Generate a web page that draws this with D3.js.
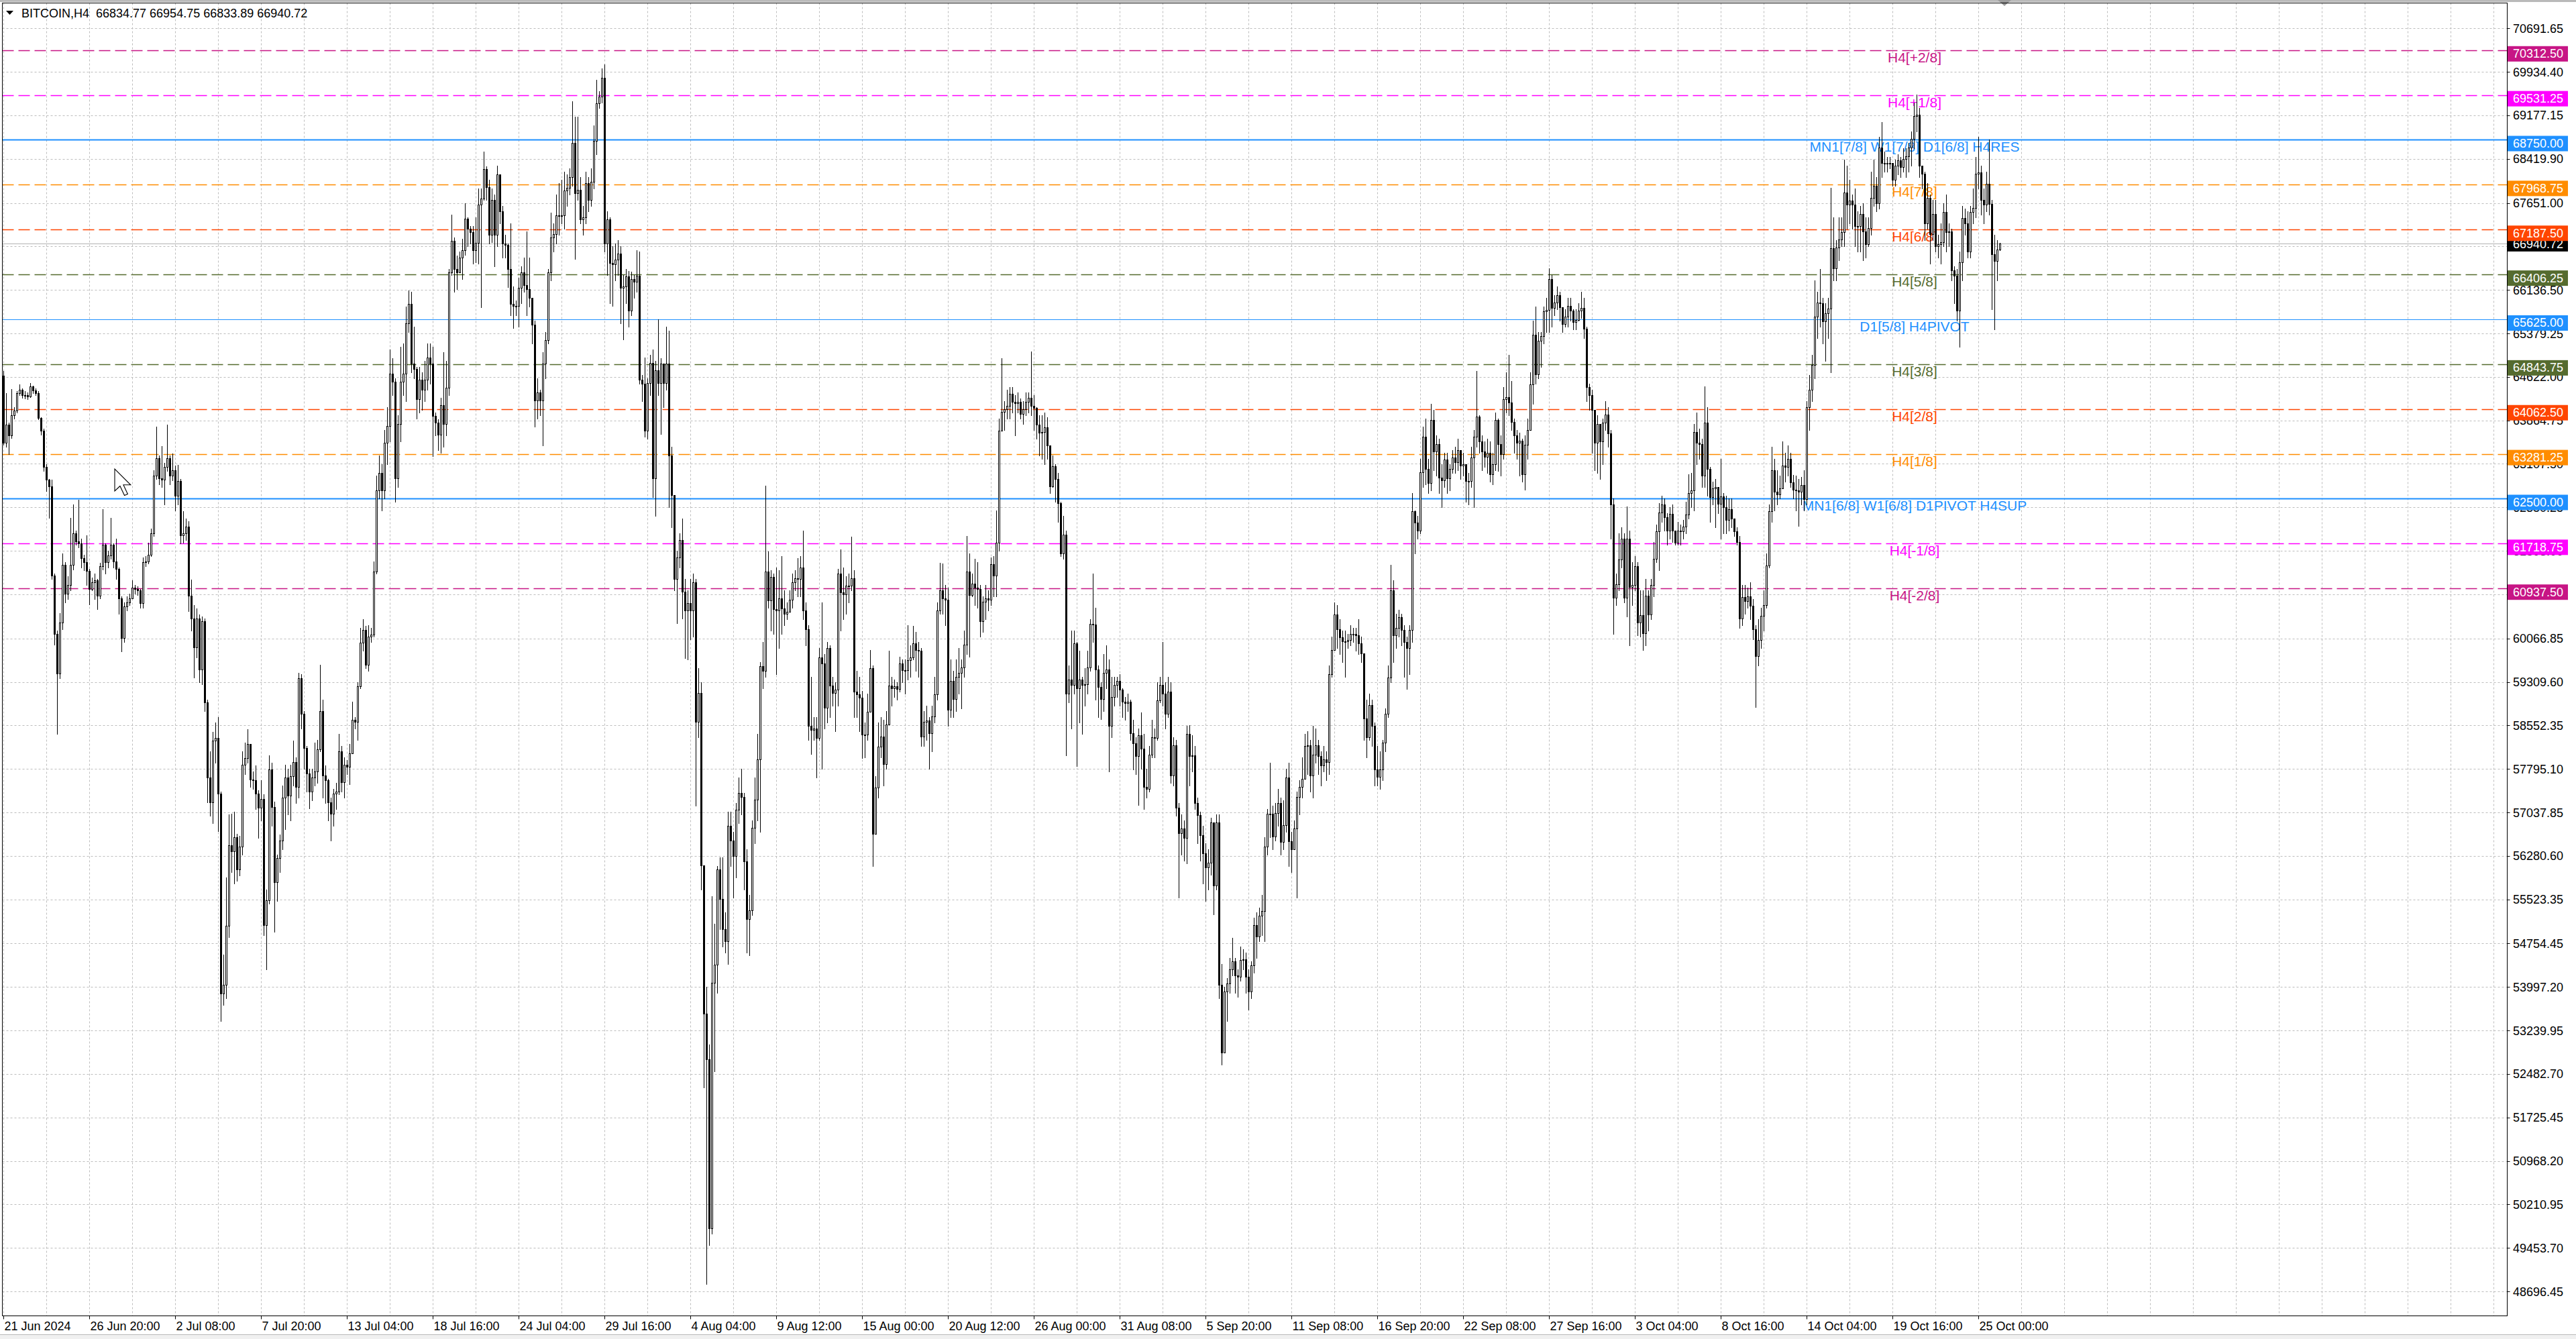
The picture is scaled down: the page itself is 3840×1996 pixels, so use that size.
<!DOCTYPE html>
<html>
<head>
<meta charset="utf-8">
<script src="https://cdn.jsdelivr.net/npm/d3@7"></script>
<style>
  html, body { margin: 0; padding: 0; background: #fff; }
  svg { display: block; font-family: "Liberation Sans", Arial, sans-serif; }
</style>
</head>
<body>
<svg id="chart" width="3840" height="1996"></svg>
<script>
// BITCOIN H4 candles, 21 Jun 2024 - 26 Oct 2024 (open of each bar = previous close)
const firstOpen = 64640;
const closes = [
  63480,63790,63600,63950,64040,64340,64400,64310,64300,64280,
  64460,64390,64340,63910,63680,63060,62830,62710,61160,60150,
  59460,60350,61350,60850,61000,61350,61900,61760,61720,61470,
  61390,61240,60930,61050,61080,60810,61320,61700,61390,61510,
  61700,61410,61280,60770,60080,60630,60690,60770,60950,60930,
  60900,60680,61390,61410,61530,61900,62900,63210,62860,62830,
  63060,63210,62900,63000,62550,62810,61860,61900,62010,60810,
  60420,59910,60420,59530,60370,58950,57640,57210,58290,58330,
  57360,53880,54040,55060,56470,56360,56610,56050,56440,57870,
  57990,58230,57610,57600,57360,57120,57270,55080,55510,57790,
  57130,55820,56240,56550,57290,57640,57330,57670,57920,57480,
  59380,58760,58160,57710,57400,57640,57750,58140,58800,57680,
  57600,57210,57020,57360,57400,58100,57560,57870,57830,58070,
  58650,58620,59240,59990,60210,59610,60100,60130,61230,62640,
  62950,62640,63470,63770,64680,64540,62860,63800,64540,64680,
  65560,65890,64850,64760,64240,64570,64400,64570,64960,64850,
  63940,63830,63610,64130,63800,64430,66440,66990,66500,66440,
  66700,66830,67380,67200,67140,66830,66960,67620,67730,68240,
  67930,67100,67710,67100,68150,67510,66940,66920,66500,65890,
  65860,65860,66170,66440,66220,66150,66000,65530,64210,64350,
  64210,64850,65260,66440,67050,67110,67440,67440,67440,67870,
  67910,68100,68700,67820,67880,67360,67400,68000,67710,68020,
  68730,69390,69500,69830,66940,67360,66610,66580,66660,66770,
  66170,66200,66370,65780,66330,66280,66390,64570,64500,63690,
  64520,64870,62860,64740,64520,64850,64520,64850,63250,62560,
  61100,61480,61780,60880,60550,60680,60550,61040,58610,59120,
  56120,53530,52740,49800,54070,54390,56050,55530,55010,54790,
  56800,56550,56280,57090,57380,57310,56180,55180,55330,56770,
  57260,57960,59580,59500,61230,60730,61140,60580,60550,60770,
  60590,60500,60530,60740,61040,61120,61100,61300,60550,60230,
  58550,58470,58500,58340,59740,59630,58860,59900,59250,59120,
  59180,61200,60870,60830,60990,60990,61120,59140,59090,59040,
  58390,58390,58790,59550,56660,57470,58180,58360,57880,58570,
  59250,59200,59230,59190,59630,59520,59510,59690,59740,59980,
  59870,59850,58360,58610,58640,58420,58710,59090,60550,60910,
  60770,60740,58820,59330,59010,59400,59470,59560,59960,61230,
  60820,61020,60950,60930,60370,60710,60770,60740,61360,61160,
  61740,63680,64010,64060,64120,64330,64190,64170,64190,63980,
  64060,64190,64260,64120,64080,63790,63650,63660,63740,63430,
  62710,63070,62840,62420,61550,61870,59100,59350,59260,59980,
  59200,59350,59260,59270,59560,60320,60310,59530,59220,59010,
  59470,59530,58550,59050,59260,59330,59180,58970,58940,58970,
  58420,58240,58020,58380,58150,57480,57450,58040,58350,58340,
  58990,59260,59100,58760,59140,57680,58210,57120,56670,56760,
  56590,58400,58020,58030,57200,56990,56640,56330,56080,56160,
  56860,55770,56860,54040,52850,53920,54060,54310,54450,54200,
  54170,54470,54480,54170,53920,54380,55070,54880,55240,55320,
  56440,57010,57010,56620,57030,57200,56520,56820,57640,56530,
  56400,56760,57310,57480,57620,58190,58210,57680,58040,58210,
  58020,57850,57960,57920,59450,59870,60480,60230,60090,60020,
  60020,60040,60150,60150,60120,59980,59810,58670,58350,58910,
  58550,57790,57660,57790,58250,58760,59390,60900,60120,60250,
  60440,60220,60010,59900,60220,62280,62090,61950,62960,63580,
  63020,62780,63870,63320,63450,62870,62820,63180,62860,63020,
  63220,63140,63350,63080,63100,62810,62810,63220,63580,63930,
  63500,63320,63230,63300,62930,63100,63870,63450,63280,64240,
  64270,64180,63840,63600,63470,63510,62930,63440,63700,64490,
  65360,64670,65250,65330,65760,65790,66330,65820,65920,66040,
  65840,65540,65670,65860,65780,65580,65610,65780,65820,65460,
  64450,64310,64050,63480,63800,63500,63820,63970,63640,62400,
  60780,61010,61440,61800,60780,61800,60960,61000,61320,60350,
  60470,60160,60810,60490,61000,61450,61930,62260,62400,62180,
  61950,62240,61950,61730,61950,61930,62010,62230,62600,62640,
  63660,63480,63450,62900,63830,63020,62530,62680,62700,62410,
  62540,62350,62130,62320,62150,61930,61750,60420,60790,60720,
  60800,60640,60230,59760,60040,60460,60650,61340,62280,63000,
  62620,62580,62680,63080,63060,63190,62790,62660,62640,62620,
  62740,62490,64100,64400,64830,65670,65920,65900,65590,65730,
  65810,66860,66510,66880,67020,67140,67830,67620,67690,67620,
  67250,67250,67460,67160,66930,67210,67740,67950,67650,68610,
  68350,68330,68350,68350,68060,68300,68390,68280,68420,68460,
  68610,68770,69160,69190,68300,68160,67300,67740,67110,67460,
  66900,66930,66970,67490,67140,67150,66480,66390,65780,66620,
  67390,67300,66810,67490,67560,68160,68180,67700,67620,67990,
  67630,66760,66640,66834.77,66940.72
];
const highs = [
  64720,64340,63820,64410,64100,64380,64490,64420,64380,64350,
  64520,64470,64420,64380,63920,63720,63100,62850,62830,61200,
  60200,60510,61550,61400,61150,62170,62400,61950,62480,61800,
  61520,61860,61280,61130,61200,61100,61380,62320,61720,61600,
  62170,61720,61800,61300,60800,60700,60800,60850,61080,61000,
  60970,60930,61480,61500,61740,61980,63000,63750,63250,63420,
  63130,63790,63250,63290,63080,63090,62850,62280,62150,62110,
  61090,60650,60590,60480,60450,60420,59000,58100,58440,58600,
  58700,57400,54560,55900,57000,57010,57050,56660,56630,58100,
  58250,58490,58200,57750,57860,57420,57600,57350,55700,58030,
  57900,57220,56300,56650,57500,57870,57800,57870,58290,58000,
  59470,59450,58800,58200,57800,57800,58250,58300,59610,59000,
  57850,57620,57300,57450,57550,58410,58200,58000,57950,58230,
  58960,58700,59300,60250,60400,60280,60300,60250,61410,62900,
  63250,63100,63700,64100,65100,64950,64600,63950,65150,65200,
  65850,66130,66100,65500,64800,64800,64700,64900,65200,65200,
  65150,64000,63880,64260,65050,64900,66500,67450,67050,66730,
  66800,67030,67650,67400,67250,67250,67400,67900,67900,68550,
  68290,68050,67900,67800,68300,68150,67600,67100,66940,67300,
  66200,65950,66350,66550,66700,67150,66700,66000,65600,64600,
  64400,65050,65400,66500,67480,67300,67800,68000,68050,68200,
  68150,68250,69420,69150,69150,68100,67600,68200,68100,68250,
  69000,69800,69600,70000,70060,67500,67400,66900,66950,67000,
  66900,66400,66500,66470,66450,66400,66830,66800,64650,64960,
  64600,65000,65100,64900,65620,64950,64700,65500,65430,63400,
  62220,61600,61900,62150,61100,60900,61100,61200,61100,59550,
  59300,56100,54000,53000,55580,55100,56100,56250,56250,55300,
  57050,57050,56700,57200,57650,57800,57380,56400,55600,56900,
  57650,58400,59660,60000,62730,61580,61250,61200,61300,61250,
  61500,60900,60700,60900,61200,61250,61470,61500,61950,60700,
  60300,59400,58700,58700,59900,60700,59800,60000,59950,59400,
  59300,61280,61620,61300,61150,61200,61840,61250,59500,59400,
  59150,58600,59100,59860,59600,57670,58600,58700,58650,58800,
  59850,59400,59350,59300,59750,59700,59700,60300,59950,60280,
  60180,60000,59900,58800,58900,58700,58900,59400,60700,61380,
  61370,61000,60950,59700,59500,59700,59900,59700,60200,61850,
  61550,61200,61450,61400,61000,60800,61000,60900,61480,61500,
  62300,63900,64950,64200,64400,64450,64450,64300,64350,64250,
  64200,64350,64350,65060,64300,64100,63950,63950,64000,63920,
  63420,63250,63100,62950,62450,62200,61950,59600,60200,60200,
  60000,59850,59400,59550,59850,60400,61200,60600,59600,59300,
  59800,59950,59700,59400,59400,59400,59450,59200,59050,59100,
  59000,58650,58350,58500,58780,58400,57800,58200,58650,58500,
  59300,59400,60000,59300,59400,59300,58350,58300,57200,57000,
  56900,58550,58560,58380,58200,57300,57050,56800,56500,56400,
  56950,56600,57000,57000,54400,54000,54150,54500,54850,54500,
  54300,54700,54650,54600,54300,54450,55200,55300,55380,55600,
  56600,57100,57900,57150,57200,57450,57300,57250,57800,57900,
  56700,56900,57400,57600,58000,58400,58450,58300,58550,58500,
  58300,58100,58200,58100,59600,60100,60700,60650,60400,60200,
  60200,60150,60300,60250,60250,60400,60100,59700,59000,59100,
  59000,58600,58200,58100,58300,58850,59600,61350,61080,60500,
  60570,60500,60300,60100,60300,62600,62300,62200,63200,63750,
  63900,63200,64150,64050,63600,63550,63100,63300,63300,63100,
  63350,63400,63550,63350,63300,63100,62950,63400,63700,64720,
  63950,63600,63500,63550,63500,63300,64000,63900,63600,64450,
  64700,65000,64550,63900,63700,63650,63550,63600,63900,64700,
  65600,65850,65400,65400,65850,66000,66510,66400,66050,66200,
  66100,65700,65800,66000,66000,65800,65800,65900,66100,66000,
  65500,64500,64400,63900,63950,63800,63900,64200,64100,63700,
  62500,61200,61900,62000,61900,62370,61950,61400,61500,61400,
  60900,60900,61100,60900,61100,61750,62050,62420,62550,62500,
  62250,62350,62400,61950,62100,62050,62130,62450,62930,62950,
  63800,64000,63720,63550,64460,64100,63050,62800,62850,62700,
  63200,62600,62550,62500,62500,62100,62000,61850,61000,61000,
  60950,61050,60750,60300,60400,60600,60900,61550,62400,63400,
  63200,63000,62900,63500,63300,63430,63300,62920,62900,62850,
  62880,63000,64200,64650,65000,66300,66100,66500,66000,65900,
  66000,67920,67400,67000,67400,67400,68400,68300,68050,67800,
  67900,67500,67600,67650,67400,67400,68200,68400,68100,68800,
  69060,68550,68450,68450,68350,68400,68500,68450,68600,68600,
  68700,68900,69400,69540,69300,68300,68200,68000,67800,67700,
  67700,67100,67300,67650,67800,67300,67200,66550,66500,66800,
  67600,67550,67500,67600,67900,68450,68800,68300,67900,68200,
  68750,67700,67100,67000,66954.75
];
const lows = [
  63440,63400,63280,63560,63900,64000,64300,64260,64250,64230,
  64270,64340,64300,63880,63620,62980,62630,62170,61100,59960,
  58410,59380,60230,60700,60750,60900,61270,61700,61650,61300,
  61250,61000,60660,60900,60750,60580,60760,61270,61200,61300,
  61450,61300,61100,60500,59840,60000,60550,60650,60850,60850,
  60820,60600,60600,61320,61370,61500,61850,62850,62750,62700,
  62400,62980,62750,62820,62290,62400,61720,61740,61780,60540,
  60200,59390,59740,59300,59270,58800,57210,56980,56850,57900,
  56710,53410,53690,53800,54860,56000,55800,55850,55940,56300,
  57700,57900,57480,57450,57100,56590,56900,54900,54300,55450,
  56800,54960,55500,56000,56400,56750,57000,56900,57500,57200,
  57300,58500,57800,57400,57110,57250,57500,57550,58100,57300,
  57200,56900,56550,56800,57100,57350,57400,57300,57700,57530,
  58500,58500,58300,59200,59850,59550,59500,60000,60100,61200,
  62500,62300,62500,63100,63500,64300,62450,62700,63500,64300,
  64200,65400,64700,64600,63900,64000,64050,64200,64400,64500,
  63240,63600,63350,63300,63400,63600,64300,66400,66100,66150,
  66500,66330,66750,66900,66950,66600,66620,66600,65840,67700,
  67700,66950,66970,66550,66900,67300,66700,66700,66180,65700,
  65470,65700,65500,65900,66100,65700,65850,65200,63750,63900,
  63950,63430,64600,65200,66300,66800,66950,67100,67300,67200,
  67600,67800,67950,66680,67700,67300,67100,67300,67500,67600,
  67900,68500,69300,69400,66800,66400,65900,65860,66300,66400,
  65550,65280,65900,65500,65700,66000,66100,64500,64200,63580,
  63550,64300,62530,62200,64300,63630,64100,64400,62350,62000,
  60900,60330,61300,60420,59720,59700,60050,60100,57150,58350,
  55700,52250,48830,49500,49700,52530,53900,55000,54700,54600,
  54400,56100,55550,55900,56850,57000,55700,54600,54550,55250,
  56500,56900,56700,59200,59400,60600,60200,60150,59450,59900,
  60150,60300,60400,60550,60600,60900,60800,60800,60400,59950,
  58300,58050,58300,57650,58300,57800,58500,58600,58700,58900,
  58450,58900,60200,60400,60500,60700,60900,58700,58700,58450,
  57980,58000,58300,58900,56100,56750,57300,58000,57500,57800,
  58600,58900,59050,59000,59140,59300,59100,59350,59400,59700,
  59500,59400,58200,58200,58300,57800,58100,58600,59000,60500,
  60500,60300,58550,58700,58700,58800,59100,58850,59400,59800,
  59750,60800,60650,60600,60100,60180,60400,60550,60650,60800,
  60800,61600,63700,63700,63900,63900,64000,63600,64000,63900,
  63800,63950,64000,63950,63700,63550,63250,63200,63100,63200,
  62600,62700,62450,62100,61500,61450,58030,58950,58500,59100,
  57840,58600,58400,58900,59100,59500,60000,59000,58700,58660,
  58800,59200,57750,58350,58900,59050,58900,58700,58650,58800,
  58300,57780,57700,57170,57800,57100,57300,57400,58000,58000,
  58300,58950,58900,58500,58700,57550,57500,56980,55550,56300,
  56200,56150,57500,57750,57100,56500,56200,55800,55500,55700,
  55950,55260,55700,53800,52650,52950,53400,53900,54200,53900,
  53820,54100,54300,53900,53600,53800,54250,54500,54800,54900,
  54800,56300,56600,56400,56550,56800,56300,56400,56700,56100,
  56000,56400,55550,57000,57300,57800,57700,57400,57300,57900,
  57700,57500,57750,57600,57700,59400,60100,59900,59800,59650,
  59400,59900,59950,60000,59850,59800,59650,58300,58000,58300,
  58200,57500,57500,57450,57600,58100,58700,59300,59650,59900,
  60100,59950,59400,59190,59450,60000,61550,61800,61900,62700,
  62750,62600,62650,63000,62900,62600,62350,62700,62600,62650,
  62950,62950,63000,62850,62900,62450,62400,62700,62350,63400,
  63300,63000,63050,62950,62800,62750,63000,62980,62900,63200,
  64000,63950,63700,63300,63200,62900,62800,62660,63200,63700,
  64150,64500,64600,64800,65200,65400,65400,65500,65700,65800,
  65600,65400,65500,65500,65600,65450,65450,65600,65650,65300,
  64200,64050,63300,63000,62950,62850,63100,63700,63400,61800,
  60150,60650,60900,61300,60700,60450,59950,60650,60900,60120,
  60100,59860,59950,60200,60400,60800,61400,61250,62100,61950,
  61700,61800,61750,61700,61700,61700,61800,61900,62150,62350,
  62300,63100,63200,62700,62700,62550,62100,62400,62000,62250,
  61800,61900,61900,61950,62000,61850,61700,60250,60300,60500,
  60600,60400,60050,58870,59600,59900,60200,60600,61300,62100,
  62300,62400,62500,62900,62800,62900,62700,62500,62300,62030,
  62400,62300,62400,63700,64200,64600,65300,65500,65200,64900,
  65300,64700,66300,66300,66650,66900,66900,67200,67300,67200,
  66900,66800,66800,66650,66700,66900,67100,67600,67500,67550,
  68100,68200,68200,68250,67950,67950,68150,68100,68200,68100,
  68200,68300,68600,68900,68100,67900,67000,67200,66600,67000,
  66800,66700,66600,66900,66800,66900,66300,65900,65600,65150,
  66300,67100,66700,66700,67300,67400,67900,67450,67300,67500,
  67450,65800,65450,66300,66833.89
];

// axis labels as MetaTrader prints them
const timeLabels = [
  "21 Jun 2024", "26 Jun 20:00", "2 Jul 08:00", "7 Jul 20:00", "13 Jul 04:00",
  "18 Jul 16:00", "24 Jul 04:00", "29 Jul 16:00", "4 Aug 04:00", "9 Aug 12:00",
  "15 Aug 00:00", "20 Aug 12:00", "26 Aug 00:00", "31 Aug 08:00", "5 Sep 20:00",
  "11 Sep 08:00", "16 Sep 20:00", "22 Sep 08:00", "27 Sep 16:00", "3 Oct 04:00",
  "8 Oct 16:00", "14 Oct 04:00", "19 Oct 16:00", "25 Oct 00:00"
];
const barsPerLabel = 32;
const priceTicks = [
  70691.65, 69934.40, 69177.15, 68419.90, 67651.00, 66893.75, 66136.50, 65379.25,
  64622.00, 63864.75, 63107.50, 62350.25, 61593.00, 60835.75, 60066.85, 59309.60,
  58552.35, 57795.10, 57037.85, 56280.60, 55523.35, 54754.45, 53997.20, 53239.95,
  52482.70, 51725.45, 50968.20, 50210.95, 49453.70, 48696.45
];
// ticks whose label is fully hidden behind a price tag in the reference
const hiddenTicks = [66893.75, 60835.75];

// Murrey math levels
const levelPrices = [70312.50, 69531.25, 68750.00, 67968.75, 67187.50, 66406.25, 65625.00,
                     64843.75, 64062.50, 63281.25, 62500.00, 61718.75, 60937.50];
const levelNames = ["H4[+2/8]", "H4[+1/8]", "MN1[7/8] W1[7/8] D1[6/8] H4RES", "H4[7/8]", "H4[6/8]",
                    "H4[5/8]", "D1[5/8] H4PIVOT", "H4[3/8]", "H4[2/8]", "H4[1/8]",
                    "MN1[6/8] W1[6/8] D1PIVOT H4SUP", "H4[-1/8]", "H4[-2/8]"];
const symbol = "BITCOIN,H4";
const lastBar = { o: 66834.77, h: 66954.75, l: 66833.89, c: 66940.72 };

// styles
const levelStyle = [
  {color: "#C71585", w: 1.3, dash: "17,7"},
  {color: "#FF00FF", w: 1.3, dash: "17,7"},
  {color: "#1E90FF", w: 2.2, dash: null},
  {color: "#FF8C00", w: 1.3, dash: "17,7"},
  {color: "#FF4500", w: 1.3, dash: "17,7"},
  {color: "#556B2F", w: 1.3, dash: "17,7"},
  {color: "#1E90FF", w: 1.2, dash: null},
  {color: "#556B2F", w: 1.3, dash: "17,7"},
  {color: "#FF4500", w: 1.3, dash: "17,7"},
  {color: "#FF8C00", w: 1.3, dash: "17,7"},
  {color: "#1E90FF", w: 2.2, dash: null},
  {color: "#FF00FF", w: 1.3, dash: "17,7"},
  {color: "#C71585", w: 1.3, dash: "17,7"}
];

const W = 3840, H = 1996;
const plot = {left: 3.5, top: 4.5, right: 3737.5, bottom: 1961.5};
const svg = d3.select("#chart");

const bars = closes.map((c, i) => ({
  i, c, h: highs[i], l: lows[i], o: i === 0 ? firstOpen : closes[i - 1]
}));

const x = d3.scaleBand()
  .domain(d3.range(933))
  .range([plot.left, plot.left + 933 * 4]);
const cx = i => x(i) + x.bandwidth() / 2;

const y = d3.scaleLinear()
  .domain([48696.45, 70691.65])
  .range([1925, 42.3]);
const sy = v => Math.round(y(v)) + 0.5;

// window chrome
svg.append("rect").attr("width", W).attr("height", H).attr("fill", "#fff");
svg.append("rect").attr("x", 0).attr("y", 0).attr("width", W).attr("height", 3).attr("fill", "#b9b9b9");
svg.append("path").attr("d", "M2978,0 L2998,0 L2988,9 Z").attr("fill", "#9a9a9a");
svg.append("rect").attr("x", 0).attr("y", 1989).attr("width", W).attr("height", 7).attr("fill", "#f0f0f0");
svg.append("line").attr("x1", 0).attr("x2", W).attr("y1", 1989.5).attr("y2", 1989.5).attr("stroke", "#b9b9b9");

svg.append("defs").append("clipPath").attr("id", "plotclip")
  .append("rect").attr("x", plot.left).attr("y", plot.top)
  .attr("width", plot.right - plot.left).attr("height", plot.bottom - plot.top);

const g = svg.append("g").attr("clip-path", "url(#plotclip)");

// grid
const gridV = d3.range(0, 933, barsPerLabel / 2);
g.selectAll("line.gv").data(gridV).enter().append("line")
  .attr("class", "gv")
  .attr("x1", d => cx(d)).attr("x2", d => cx(d))
  .attr("y1", plot.top).attr("y2", plot.bottom)
  .attr("stroke", "#bdbdbd").attr("stroke-dasharray", "3,3");
g.selectAll("line.gh").data(priceTicks).enter().append("line")
  .attr("class", "gh")
  .attr("x1", plot.left).attr("x2", plot.right)
  .attr("y1", d => sy(d)).attr("y2", d => sy(d))
  .attr("stroke", "#bdbdbd").attr("stroke-dasharray", "3,3");

// level lines and labels
const levels = levelPrices.map((p, k) => ({p, name: levelNames[k], st: levelStyle[k]}));
g.selectAll("line.lvl").data(levels).enter().append("line")
  .attr("class", "lvl")
  .attr("x1", plot.left).attr("x2", plot.right)
  .attr("y1", d => sy(d.p)).attr("y2", d => sy(d.p))
  .attr("stroke", d => d.st.color)
  .attr("stroke-width", d => d.st.w)
  .attr("stroke-dasharray", d => d.st.dash);
g.selectAll("text.lvl").data(levels).enter().append("text")
  .attr("class", "lvl")
  .attr("x", 2854).attr("y", d => sy(d.p) + 17)
  .attr("text-anchor", "middle")
  .attr("font-size", 21)
  .attr("fill", d => d.st.color)
  .text(d => d.name);

// current price line
g.append("line")
  .attr("x1", plot.left).attr("x2", plot.right)
  .attr("y1", sy(lastBar.c)).attr("y2", sy(lastBar.c))
  .attr("stroke", "#b4b4b4");

// candles
const cg = g.append("g");
cg.selectAll("line.wick").data(bars).enter().append("line")
  .attr("class", "wick")
  .attr("x1", d => cx(d.i)).attr("x2", d => cx(d.i))
  .attr("y1", d => Math.round(y(d.h))).attr("y2", d => Math.round(y(d.l)) + 1)
  .attr("stroke", "#000");
cg.selectAll("rect.body").data(bars).enter().append("rect")
  .attr("class", "body")
  .attr("x", d => cx(d.i) - 1)
  .attr("width", 2)
  .attr("y", d => sy(Math.max(d.o, d.c)))
  .attr("height", d => Math.max(1, sy(Math.min(d.o, d.c)) - sy(Math.max(d.o, d.c))))
  .attr("fill", d => d.c >= d.o ? "#fff" : "#000")
  .attr("stroke", "#000");

// mouse pointer
svg.append("path")
  .attr("transform", "translate(171,699) scale(2.2)")
  .attr("d", "M0,0 L0,15 L3.6,11.6 L6.6,18 L8.8,17 L5.9,10.8 L10.8,10.8 Z")
  .attr("fill", "#fff").attr("stroke", "#000").attr("stroke-width", 0.5);

// frame
svg.append("rect")
  .attr("x", plot.left).attr("y", plot.top)
  .attr("width", plot.right - plot.left).attr("height", plot.bottom - plot.top)
  .attr("fill", "none").attr("stroke", "#000");

// title
svg.append("path").attr("d", "M9,16 L20,16 L14.5,22 Z").attr("fill", "#000");
svg.append("text")
  .attr("x", 32).attr("y", 26)
  .attr("font-size", 18)
  .style("white-space", "pre")
  .text(`${symbol}  ${lastBar.o.toFixed(2)} ${lastBar.h.toFixed(2)} ${lastBar.l.toFixed(2)} ${lastBar.c.toFixed(2)}`);

// time axis
const tAxis = svg.append("g");
const tl = timeLabels.map((t, k) => ({t, i: k * barsPerLabel}));
tAxis.selectAll("line").data(tl).enter().append("line")
  .attr("x1", d => cx(d.i)).attr("x2", d => cx(d.i))
  .attr("y1", plot.bottom).attr("y2", plot.bottom + 5)
  .attr("stroke", "#000");
tAxis.selectAll("text").data(tl).enter().append("text")
  .attr("x", d => cx(d.i) + 1).attr("y", 1983)
  .attr("font-size", 18)
  .text(d => d.t);

// price axis
const pAxis = svg.append("g");
pAxis.selectAll("line").data(priceTicks).enter().append("line")
  .attr("x1", plot.right).attr("x2", plot.right + 4)
  .attr("y1", d => sy(d)).attr("y2", d => sy(d))
  .attr("stroke", "#000");
pAxis.selectAll("text").data(priceTicks.filter(v => !hiddenTicks.includes(v))).enter().append("text")
  .attr("x", 3746).attr("y", d => y(d) + 6.5)
  .attr("font-size", 18)
  .text(d => d.toFixed(2));

// current price tag
pAxis.append("rect")
  .attr("x", 3738).attr("y", y(lastBar.c) - 11.5)
  .attr("width", 90).attr("height", 23).attr("fill", "#000");
pAxis.append("text")
  .attr("x", 3746).attr("y", y(lastBar.c) + 6.5)
  .attr("font-size", 18).attr("fill", "#fff")
  .text(lastBar.c.toFixed(2));

// level price tags
const tags = pAxis.selectAll("g.tag").data(levels).enter().append("g").attr("class", "tag");
tags.append("rect")
  .attr("x", 3738).attr("y", d => y(d.p) - 6)
  .attr("width", 90).attr("height", 23)
  .attr("fill", d => d.st.color);
tags.append("text")
  .attr("x", 3746).attr("y", d => y(d.p) + 11.5)
  .attr("font-size", 18).attr("fill", "#fff")
  .text(d => d.p.toFixed(2));
</script>
</body>
</html>
